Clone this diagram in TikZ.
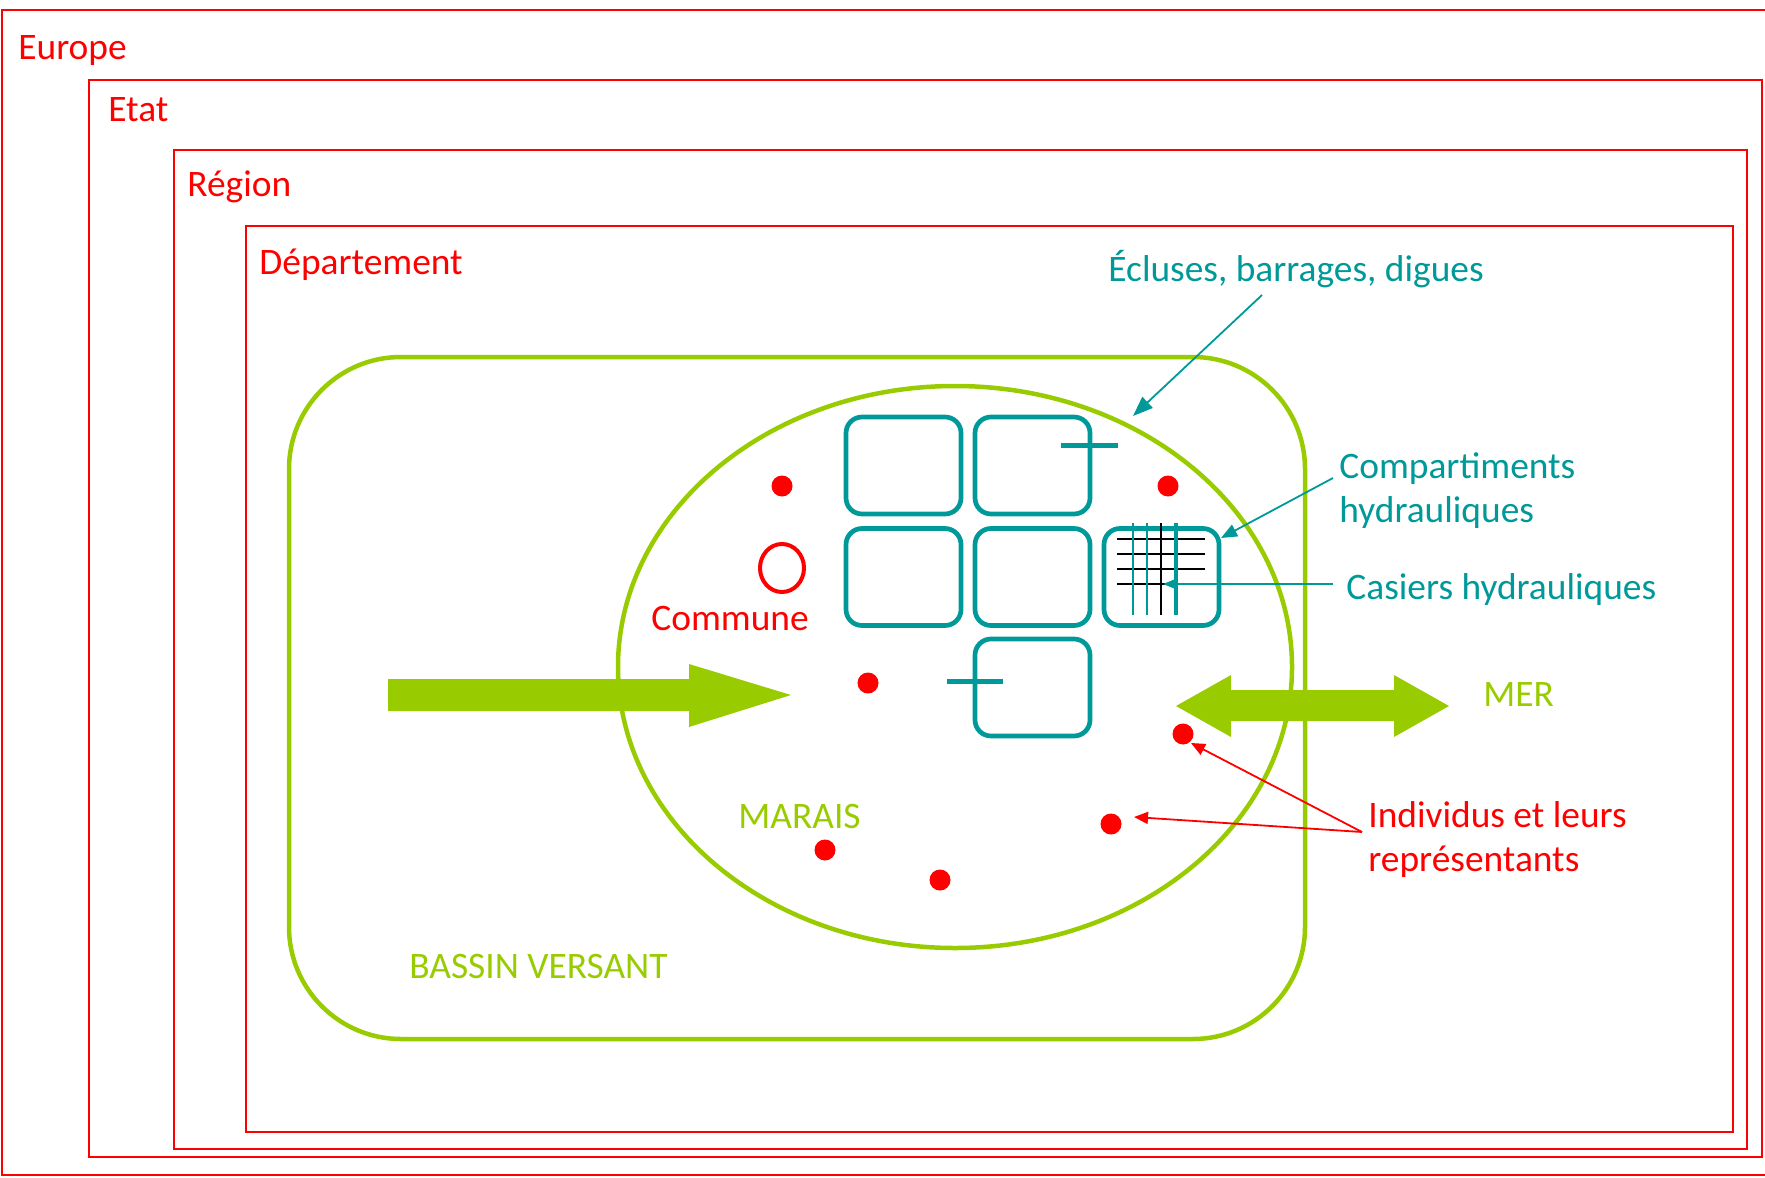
\documentclass[tikz,border=0pt]{standalone}
\usepackage{fontspec}
\setmainfont{Carlito}
\usetikzlibrary{arrows.meta,shapes.geometric}
\definecolor{cred}{RGB}{255,0,0}
\definecolor{cteal}{RGB}{0,153,153}
\definecolor{cgreen}{RGB}{153,204,0}
\begin{document}
\begin{tikzpicture}[x=0.5pt,y=-0.5pt,
  lvl/.style={draw=cred,line width=1.1pt},
  lbl/.style={anchor=base west,inner sep=0pt,font=\fontsize{18.7}{22}\selectfont},
  dot/.style={circle,fill=cred,inner sep=0pt,minimum size=10.5pt},
  cbox/.style={draw=cteal,line width=2.35pt,rounded corners=8pt,inner sep=0pt,minimum width=57.5pt,minimum height=48.5pt},
  lock/.style={draw=cteal,line width=2.5pt},
  gridk/.style={draw=black,line width=0.85pt},
  gridt/.style={draw=cteal,line width=0.85pt},
  tconn/.style={draw=cteal,line width=0.9pt,-{Triangle[length=8pt,width=6.5pt]}},
  rconn/.style={draw=cred,line width=0.9pt,-{Triangle[length=7pt,width=6pt]}},
  bigarrow/.style={fill=cgreen}
]
\useasboundingbox (0,0) rectangle (1765,1177);

% nested administrative levels
\draw[lvl] (2,10) rectangle (1767,1175);
\draw[lvl] (89,80) rectangle (1762,1157);
\draw[lvl] (174,150) rectangle (1747,1149);
\draw[lvl] (246,226) rectangle (1733,1132);

\node[lbl,text=cred] (europe) at (18,60) {Europe};
\node[lbl,text=cred] (etat) at (108,121) {Etat};
\node[lbl,text=cred] (region) at (187,196) {Région};
\node[lbl,text=cred] (dept) at (259,274) {Département};

% bassin versant and marais
\node[draw=cgreen,line width=2.25pt,rounded corners=56pt,inner sep=0pt,
      minimum width=508pt,minimum height=341pt] (bassin) at (797,698) {};
\node[ellipse,draw=cgreen,line width=2.25pt,inner sep=0pt,
      minimum width=337pt,minimum height=281pt] (marais) at (955,667) {};

\node[lbl,text=cgreen] (bvlabel) at (409,978) {BASSIN VERSANT};
\node[lbl,text=cgreen] (maraislabel) at (738,828) {MARAIS};
\node[lbl,text=cgreen] (mer) at (1483,706) {MER};

% big green arrows
\fill[bigarrow] (388,679) -- (689,679) -- (689,664) -- (791,695) -- (689,727) -- (689,711) -- (388,711) -- cycle;
\fill[bigarrow] (1176,706) -- (1231,675) -- (1231,690) -- (1394,690) -- (1394,675) -- (1449,706)
  -- (1394,737) -- (1394,721) -- (1231,721) -- (1231,737) -- cycle;

% hydraulic compartments
\node[cbox] (b11) at (903.5,465.5) {};
\node[cbox] (b12) at (1032.5,465.5) {};
\node[cbox] (b21) at (903.5,577) {};
\node[cbox] (b22) at (1032.5,577) {};
\node[cbox] (b23) at (1161.5,577) {};
\node[cbox] (b32) at (1032.5,687.5) {};

\coordinate (lockA1) at (1061,445);
\coordinate (lockA2) at (1118,445);
\coordinate (lockB1) at (947,681);
\coordinate (lockB2) at (1003,681);
\draw[lock] (lockA1) -- (lockA2);
\draw[lock] (lockB1) -- (lockB2);

% casiers grid
\foreach \yy in {539,554,569,584} \draw[gridk] (1117,\yy) -- (1205,\yy);
\draw[gridt] (1133,523) -- (1133,615);
\draw[gridt] (1147,523) -- (1147,615);
\draw[gridk] (1161,523) -- (1161,615);
\draw[draw=cteal,line width=1.6pt] (1176,523) -- (1176,615);

% individuals
\node[dot] (d1) at (782,486) {};
\node[dot] (d2) at (868,683) {};
\node[dot] (d3) at (1168,486) {};
\node[dot] (d4) at (1183,734) {};
\node[dot] (d5) at (1111,824) {};
\node[dot] (d6) at (825,850) {};
\node[dot] (d7) at (940,880) {};

% commune
\node[ellipse,draw=cred,line width=2pt,inner sep=0pt,minimum width=22pt,minimum height=24pt] (commune) at (782,568) {};
\node[lbl,text=cred] (communelabel) at (651,630) {Commune};

% teal labels and connectors
\node[lbl,text=cteal] (ecluses) at (1108,281) {Écluses, barrages, digues};
\node[lbl,text=cteal] (comp1) at (1339,478) {Compartiments};
\node[lbl,text=cteal] (comp2) at (1339,522) {hydrauliques};
\node[lbl,text=cteal] (casiers) at (1346,599) {Casiers hydrauliques};

\coordinate (eclS) at (1262,295);
\coordinate (eclT) at (1133,416);
\coordinate (compS) at (1333,478);
\coordinate (compT) at (1221,538);
\coordinate (casS) at (1333,584);
\coordinate (casT) at (1163,584);
\draw[tconn,-{Triangle[length=10pt,width=7.5pt]}] (eclS) -- (eclT);
\draw[tconn] (compS) -- (compT);
\draw[tconn,-{Triangle[length=6.5pt,width=5pt]}] (casS) -- (casT);

% red labels and connectors
\node[lbl,text=cred] (indiv1) at (1368,827) {Individus et leurs};
\node[lbl,text=cred] (indiv2) at (1368,871) {représentants};
\coordinate (indS) at (1362,832);
\coordinate (indT1) at (1191,743);
\coordinate (indT2) at (1134,817);
\draw[rconn] (indS) -- (indT1);
\draw[rconn] (indS) -- (indT2);
\end{tikzpicture}
\end{document}
